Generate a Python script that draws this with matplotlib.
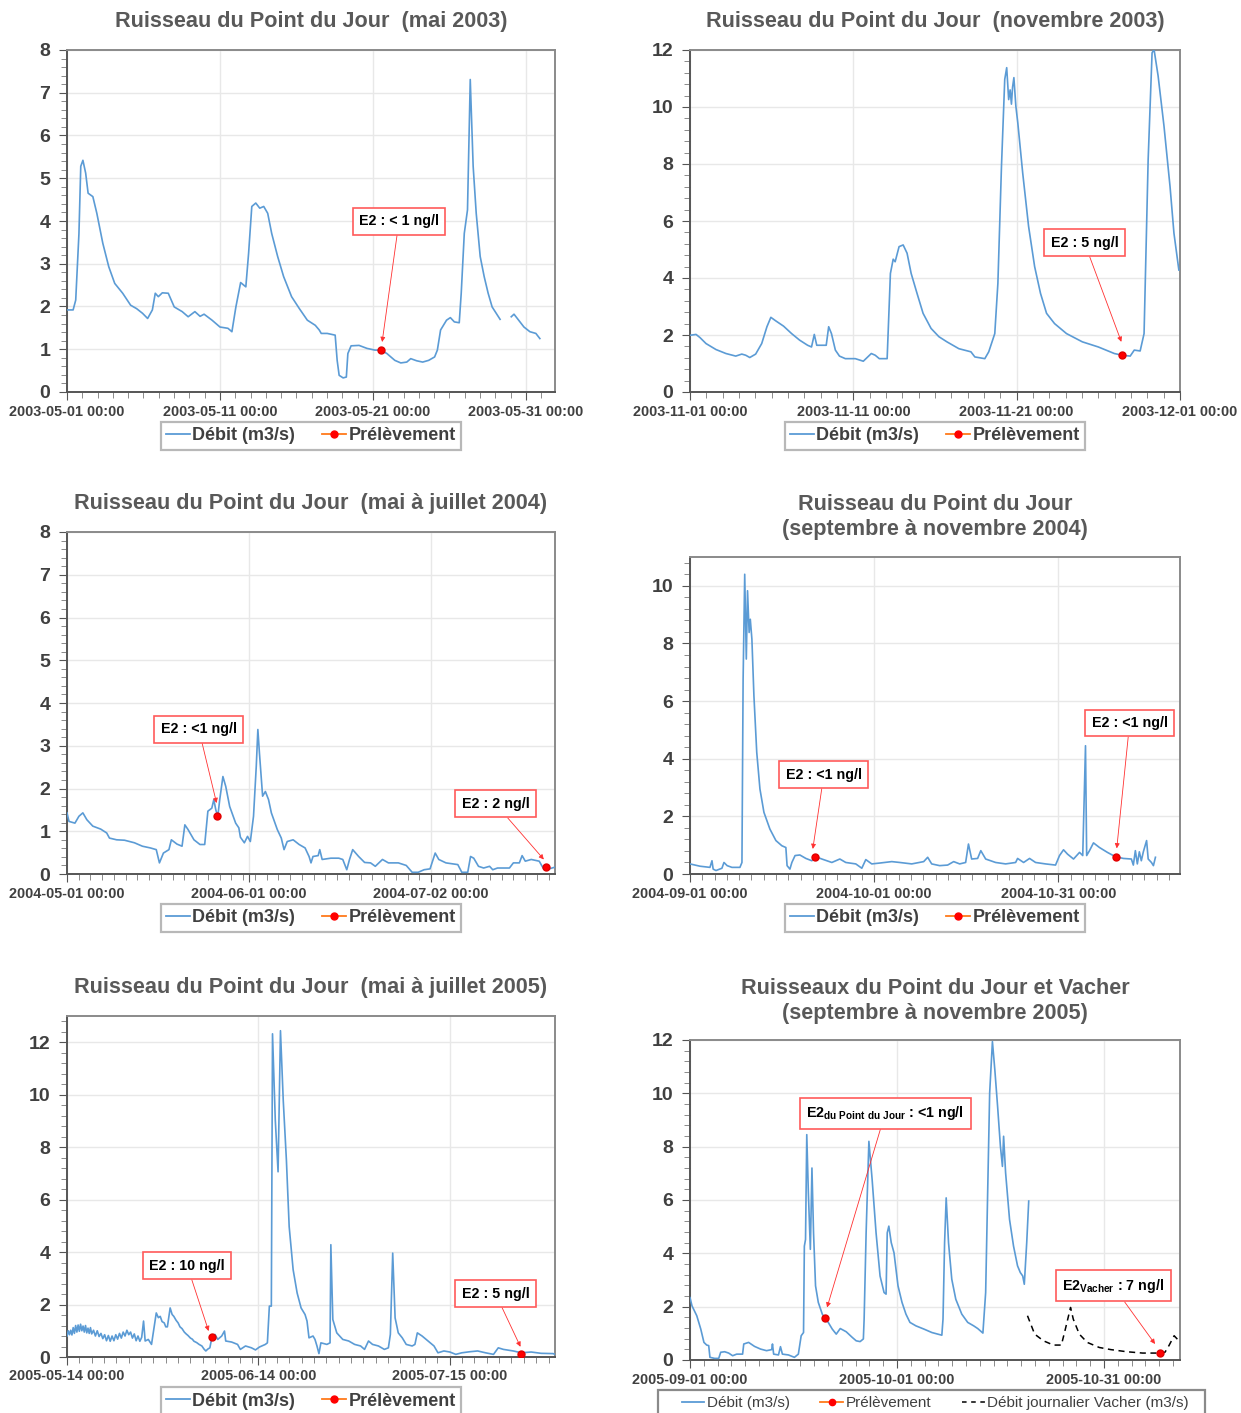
import numpy as np
import matplotlib
matplotlib.use("Agg")
import matplotlib.pyplot as plt
import matplotlib.dates as mdates
from matplotlib.lines import Line2D
from matplotlib.patches import Rectangle
from matplotlib.ticker import MultipleLocator, FixedLocator, AutoMinorLocator

plt.rcParams['font.family'] = ['Liberation Sans', 'DejaVu Sans']
plt.rcParams['mathtext.fontset'] = 'custom'
plt.rcParams['mathtext.rm'] = 'Liberation Sans'
plt.rcParams['mathtext.bf'] = 'Liberation Sans:bold'

# ---------------- data (days since start date, flow m3/s) ----------------
p1_start = '2003-05-01'
p1_days = [0, 0.4, 0.57, 0.78, 0.9, 1.04, 1.22, 1.38, 1.69, 1.95, 2.34, 2.73, 3.12, 3.64, 4.16,
           4.55, 4.94, 5.27, 5.58, 5.77, 5.97, 6.23, 6.62, 7.01, 7.53, 7.92, 8.36, 8.7, 8.96,
           9.48, 10.0, 10.52, 10.78, 11.04, 11.35, 11.69, 11.87, 12.08, 12.34, 12.6, 12.86,
           13.12, 13.38, 13.77, 14.16, 14.68, 15.19, 15.71, 16.23, 16.49, 16.62, 17.01, 17.53,
           17.66, 17.79, 18.05, 18.26, 18.36, 18.57, 19.09, 19.61, 20.13, 20.52, 20.91, 21.43,
           21.82, 22.21, 22.47, 22.86, 23.25, 23.64, 24.03, 24.21, 24.42, 24.81, 25.06, 25.32,
           25.64, 25.77, 25.97, 26.18, 26.36, 26.55, 26.75, 27.01, 27.27, 27.53, 27.79, 28.31,
           28.6, 29.04, 29.22, 29.48, 29.87, 30.26, 30.65, 30.91]
p1_flow = [1.92, 1.92, 2.15, 3.7, 5.28, 5.42, 5.12, 4.65, 4.57, 4.18, 3.48, 2.93, 2.54, 2.31, 2.03,
           1.95, 1.84, 1.72, 1.92, 2.31, 2.23, 2.32, 2.31, 1.99, 1.88, 1.76, 1.88, 1.77, 1.82,
           1.68, 1.52, 1.49, 1.41, 1.99, 2.56, 2.46, 3.24, 4.34, 4.42, 4.3, 4.34,
           4.18, 3.71, 3.17, 2.7, 2.23, 1.95, 1.68, 1.56, 1.45, 1.37, 1.37, 1.33,
           0.74, 0.39, 0.33, 0.35, 0.9, 1.08, 1.09, 1.02, 0.98, 0.98, 0.9, 0.74,
           0.68, 0.7, 0.78, 0.73, 0.7, 0.74, 0.82, 0.98, 1.45, 1.68, 1.74, 1.64,
           1.62, 2.31, 3.71, 4.26, 7.31, 5.28, 4.18, 3.17, 2.7, 2.31, 1.99, 1.7,
           np.nan, 1.76, 1.82, 1.7, 1.52, 1.41, 1.37, 1.25]
p1_sample_days = [20.55]
p1_sample_flow = [0.98]

p2_start = '2003-11-01'
p2_days = [0, 0.37, 0.61, 0.98, 1.59, 2.2, 2.8, 3.17, 3.41, 3.66, 4.02, 4.39, 4.71, 4.95, 5.24,
           5.73, 6.22, 6.71, 7.2, 7.44, 7.61, 7.76, 7.93, 8.34, 8.49, 8.66, 8.9, 9.15, 9.51,
           10.12, 10.61, 11.1, 11.34, 11.59, 12.07, 12.27, 12.44, 12.56, 12.8, 13.05, 13.29,
           13.54, 13.9, 14.27, 14.76, 15.24, 15.73, 16.46, 17.2, 17.44, 18.05, 18.29, 18.66,
           18.85, 19.07, 19.27, 19.39, 19.51, 19.6, 19.68, 19.75, 19.83, 19.95, 20.07, 20.37,
           20.73, 21.1, 21.46, 21.83, 22.32, 23.05, 24.02, 25.0, 25.98, 26.46, 26.95, 27.2,
           27.56, 27.8, 28.05, 28.29, 28.41, 28.66, 29.02, 29.39, 29.63, 29.93]
p2_flow = [1.99, 2.02, 1.91, 1.7, 1.49, 1.35, 1.26, 1.33, 1.29, 1.21, 1.33, 1.7, 2.29, 2.62, 2.5,
           2.31, 2.05, 1.82, 1.64, 1.58, 2.02, 1.64, 1.64, 1.64, 2.29, 2.05, 1.47, 1.26, 1.17,
           1.17, 1.08, 1.35, 1.29, 1.17, 1.17, 4.16, 4.66, 4.57, 5.1, 5.16, 4.87,
           4.16, 3.46, 2.76, 2.23, 1.94, 1.76, 1.52, 1.41, 1.23, 1.17, 1.41, 2.05,
           3.81, 7.92, 10.97, 11.38, 10.26, 10.6, 10.1, 10.7, 11.03, 10.03, 9.44, 7.68,
           5.81, 4.4, 3.46, 2.76, 2.4, 2.05, 1.76, 1.58, 1.35, 1.29, 1.26, 1.47,
           1.44, 2.05, 8.15, 11.9, 12.02, 11.09, 9.33, 7.21, 5.57, 4.28]
p2_sample_days = [26.46]
p2_sample_flow = [1.29]

p3_start = '2004-05-01'
p3_days = [0, 0.34, 1.35, 2.03, 2.7, 3.38, 4.39, 5.74, 6.76, 7.23, 8.45, 9.8, 11.49, 12.84, 14.19,
           15.2, 15.74, 16.42, 17.36, 17.77, 18.72, 19.59, 20.07, 20.61, 21.62, 22.64, 23.45,
           23.99, 24.66, 25.0, 25.34, 25.68, 26.01, 26.55, 27.03, 27.7, 28.72, 29.26, 29.53,
           30.2, 30.74, 31.22, 31.76, 32.23, 32.5, 32.77, 33.31, 33.78, 34.32, 34.8, 35.81,
           36.49, 36.96, 37.5, 38.51, 39.53, 40.54, 41.22, 41.55, 41.89, 42.77, 43.04, 43.45,
           44.93, 46.28, 46.96, 47.64, 48.11, 48.65, 49.66, 50.68, 51.69, 52.5, 53.72, 54.73,
           56.42, 57.77, 58.78, 59.8, 60.81, 61.82, 62.7, 63.31, 64.53, 66.55, 67.23, 68.24,
           68.72, 69.26, 70.07, 70.95, 71.96, 72.5, 73.31, 75.34, 76.01, 77.03, 77.5, 78.04,
           79.05, 80.41, 81.08, 82.09, 83.11]
p3_flow = [1.43, 1.23, 1.19, 1.35, 1.43, 1.27, 1.12, 1.05, 0.96, 0.84, 0.8, 0.79, 0.73, 0.65, 0.61,
           0.57, 0.26, 0.49, 0.57, 0.8, 0.7, 0.65, 1.15, 1.04, 0.8, 0.69, 0.69,
           1.47, 1.54, 1.74, 1.5, 1.35, 1.74, 2.28, 2.05, 1.58, 1.19, 1.08, 0.86,
           0.73, 0.88, 0.76, 1.35, 2.52, 3.38, 2.83, 1.82, 1.93, 1.74, 1.43, 1.04,
           0.84, 0.57, 0.76, 0.8, 0.69, 0.61, 0.41, 0.26, 0.41, 0.43, 0.57, 0.34,
           0.37, 0.37, 0.34, 0.1, 0.34, 0.57, 0.41, 0.27, 0.26, 0.18, 0.34, 0.26,
           0.26, 0.2, 0.04, 0.04, 0.1, 0.12, 0.49, 0.34, 0.26, 0.22, 0.04, 0.04,
           0.41, 0.37, 0.18, 0.14, 0.18, 0.1, 0.14, 0.14, 0.26, 0.26, 0.43, 0.3,
           0.34, 0.3, 0.14, 0.12, 0.16]
p3_sample_days = [25.47, 81.62]
p3_sample_flow = [1.35, 0.16]

p4_start = '2004-09-01'
p4_days = [0, 1.63, 3.25, 3.58, 3.77, 4.23, 5.2, 5.53, 6.05, 6.83, 8.13, 8.46, 8.65, 8.91, 9.17,
           9.37, 9.63, 9.82, 10.08, 10.41, 10.87, 11.39, 12.04, 13.01, 13.99, 14.96, 15.61,
           15.81, 16.27, 16.59, 17.11, 17.89, 18.87, 19.84, 20.49, 21.47, 23.1, 24.4, 25.37,
           27.0, 27.98, 28.63, 29.6, 30.9, 32.86, 34.16, 36.11, 38.06, 38.71, 39.36, 40.66,
           41.96, 42.94, 43.92, 44.89, 45.35, 45.87, 46.84, 47.36, 48.15, 49.77, 51.4, 53.03,
           53.35, 54.33, 55.3, 56.28, 57.9, 59.53, 60.18, 60.83, 61.48, 62.46, 63.44, 63.96,
           64.41, 64.6, 65.06, 65.71, 66.68, 67.98, 69.28, 70.58, 71.88, 72.2, 72.53, 72.85,
           73.18, 73.5, 73.83, 74.36, 74.62, 75.15, 75.47, 75.8]
p4_flow = [0.35, 0.27, 0.23, 0.46, 0.17, 0.12, 0.2, 0.4, 0.29, 0.23, 0.23, 0.4, 6.76, 10.4, 7.46,
           9.83, 8.38, 8.84, 8.15, 6.18, 4.22, 2.95, 2.14, 1.56, 1.16, 0.98, 0.92,
           0.29, 0.17, 0.4, 0.64, 0.66, 0.54, 0.46, 0.6, 0.52, 0.4, 0.52, 0.4,
           0.35, 0.2, 0.5, 0.35, 0.38, 0.43, 0.4, 0.35, 0.43, 0.58, 0.35, 0.29,
           0.31, 0.43, 0.35, 0.4, 1.04, 0.52, 0.54, 0.81, 0.52, 0.4, 0.35, 0.4,
           0.54, 0.4, 0.54, 0.4, 0.35, 0.31, 0.64, 0.84, 0.69, 0.52, 0.75, 0.64,
           4.45, 0.64, 0.81, 1.08, 0.92, 0.75, 0.6, 0.54, 0.52, 0.31, 0.81, 0.35,
           0.77, 0.46, 0.77, 1.16, 0.52, 0.4, 0.29, 0.58]
p4_sample_days = [20.43, 69.41]
p4_sample_flow = [0.6, 0.6]

p5_start = '2005-05-14'
p5_days = [0, 0.2, 0.4, 0.6, 0.8, 1.0, 1.2, 1.4, 1.6, 1.8, 2.0, 2.2, 2.4, 2.6, 2.8, 3.0, 3.2,
           3.4, 3.6, 3.8, 4.0, 4.3, 4.6, 4.9, 5.2, 5.5, 5.8, 6.1, 6.4, 6.7, 7.0, 7.3, 7.6,
           7.9, 8.2, 8.5, 8.8, 9.1, 9.4, 9.7, 10.0, 10.3, 10.6, 10.9, 11.2, 11.5, 11.8, 12.1,
           12.4, 12.66, 13.17, 13.69, 14.14, 14.46, 14.8, 15.1, 15.4, 15.75, 16.0, 16.26,
           16.71, 17.03, 17.3, 17.67, 18.0, 18.3, 18.64, 19.0, 19.3, 19.6, 20.0, 20.3, 20.57,
           21.0, 21.4, 21.85, 22.2, 22.49, 22.8, 23.14, 23.46, 23.97, 24.42, 25.06, 25.51, 25.71,
           26.67, 27.63, 28.08, 28.92, 29.88, 30.53, 31.17, 32.13, 32.46, 32.78, 33.1, 33.29,
           33.74, 34.19, 34.58, 35.03, 35.54, 35.99, 36.63, 37.28, 37.92, 38.56, 38.88, 39.2,
           39.85, 40.17, 40.49, 40.81, 41.13, 42.1, 42.61, 42.74, 43.06, 43.7, 44.67, 45.63,
           46.59, 47.56, 48.2, 48.84, 49.49, 50.45, 51.41, 52.06, 52.38, 52.76, 53.15, 53.66,
           54.31, 54.95, 55.91, 56.36, 56.75, 57.52, 58.48, 59.45, 60.09, 61.05, 62.02, 62.98,
           63.95, 65.23, 66.52, 67.8, 69.09, 69.86, 70.69, 72.3, 73.59, 75.19, 76.8, 78.73, 79.05]
p5_flow = [0.8, 1.0, 0.85, 1.02, 0.84, 1.12, 0.9, 1.2, 0.95, 1.22, 0.98, 1.25, 1.0, 1.18, 0.95,
           1.2, 0.92, 1.1, 0.9, 1.12, 0.88, 1.02, 0.8, 1.0, 0.78, 0.9, 0.7, 0.85, 0.62, 0.82,
           0.6, 0.8, 0.62, 0.85, 0.68, 0.9, 0.72, 0.95, 0.8, 1.02, 0.85, 0.95, 0.72, 0.88,
           0.62, 0.8, 0.6, 0.75, 1.37, 0.61, 0.67, 0.48, 1.18, 1.68, 1.5, 1.55, 1.35, 1.3,
           1.15, 1.15, 1.87, 1.62, 1.55, 1.4, 1.3, 1.15, 1.08, 0.95, 0.88, 0.82, 0.72, 0.68,
           0.6, 0.55, 0.48, 0.42, 0.3, 0.23, 0.3, 0.35, 0.73, 0.86, 0.67, 0.8, 0.99, 0.61,
           0.57, 0.48, 0.29, 0.42, 0.35, 0.27, 0.38, 0.48, 0.54, 1.94, 1.94, 12.32,
           9.03, 7.06, 12.44, 9.78, 7.51, 4.97, 3.33, 2.44, 1.87, 1.62, 1.37, 0.73,
           0.8, 0.67, 0.42, 0.13, 0.54, 0.48, 0.54, 4.28, 1.43, 0.92, 0.67, 0.61,
           0.48, 0.42, 0.29, 0.61, 0.48, 0.42, 0.29, 0.35, 0.86, 3.96, 1.49, 0.92,
           0.73, 0.48, 0.42, 0.48, 0.92, 0.8, 0.61, 0.42, 0.16, 0.23, 0.19, 0.1,
           0.16, 0.2, 0.23, 0.16, 0.1, 0.35, 0.29, 0.23, 0.16, 0.19, 0.14, 0.13, 0.1]
p5_sample_days = [23.52, 73.59]
p5_sample_flow = [0.76, 0.13]

p6_start = '2005-09-01'
p6_days = [0, 0.29, 0.98, 1.56, 2.02, 2.42, 2.71, 2.89, 3.58, 4.16, 4.45, 5.02, 5.6, 6.18, 6.76,
           7.62, 7.79, 8.49, 9.35, 10.22, 11.09, 11.84, 11.95, 12.12, 12.82, 13.11, 13.39,
           14.26, 15.13, 15.7, 16.11, 16.45, 16.57, 16.74, 16.92, 17.15, 17.44, 17.67, 17.9,
           18.19, 18.59, 19.17, 19.57, 20.03, 20.61, 21.19, 21.77, 22.63, 23.5, 24.08, 24.65,
           25.12, 25.23, 25.52, 25.92, 26.39, 26.96, 27.54, 28.12, 28.41, 28.58, 28.81, 29.16,
           29.56, 30.14, 30.72, 31.29, 31.87, 32.74, 33.89, 35.05, 35.91, 36.49, 36.66, 36.89,
           37.12, 37.46, 37.93, 38.51, 39.38, 40.24, 41.11, 41.69, 42.44, 42.84, 43.13, 43.42,
           43.82, 44.17, 44.57, 44.98, 45.27, 45.44, 45.73, 46.3, 46.88, 47.46, 47.86, 48.21,
           48.44, 48.79, 49.08]
p6_flow = [2.34, 2.03, 1.66, 1.16, 0.66, 0.56, 0.54, 0.1, 0.06, 0.06, 0.29, 0.31, 0.26, 0.16, 0.22,
           0.22, 0.6, 0.66, 0.51, 0.41, 0.35, 0.39, 0.6, 0.22, 0.19, 0.5, 0.22,
           0.19, 0.1, 0.22, 0.91, 1.03, 4.27, 4.52, 8.45, 6.27, 4.15, 7.2, 4.77,
           2.78, 2.16, 1.72, 1.56, 1.41, 1.16, 0.97, 1.18, 1.06, 0.85, 0.72, 0.69,
           0.79, 1.53, 4.77, 8.2, 6.77, 4.77, 3.15, 2.53, 2.47, 4.77, 5.02, 4.4,
           4.02, 2.78, 2.16, 1.72, 1.41, 1.28, 1.16, 1.03, 0.97, 0.93, 1.53, 4.4,
           6.08, 4.4, 3.03, 2.28, 1.72, 1.41, 1.28, 1.18, 1.01, 2.53, 6.27, 10.01,
           11.94, 10.88, 9.51, 8.01, 7.26, 8.39, 7.02, 5.27, 4.27, 3.53, 3.28, 3.15,
           2.84, 4.4, 5.96]
p6_vacher_days = [48.9, 49.94, 51.21, 52.65, 53.81, 54.39, 55.14, 55.54, 56.41, 57.56, 59.3,
                  60.97, 63.28, 65.59, 67.9, 68.82, 69.4, 70.15, 70.84]
p6_vacher_flow = [1.66, 0.97, 0.72, 0.56, 0.56, 1.16, 1.97, 1.53, 0.97, 0.66, 0.47,
                  0.39, 0.31, 0.26, 0.26, 0.29, 0.54, 0.91, 0.72]
p6_sample_days = [19.57, 68.07]
p6_sample_flow = [1.57, 0.26]

titles = ['Ruisseau du Point du Jour  (mai 2003)',
          'Ruisseau du Point du Jour  (novembre 2003)',
          'Ruisseau du Point du Jour  (mai à juillet 2004)',
          'Ruisseau du Point du Jour\n(septembre à novembre 2004)',
          'Ruisseau du Point du Jour  (mai à juillet 2005)',
          'Ruisseaux du Point du Jour et Vacher\n(septembre à novembre 2005)']

p1_xticks = ['2003-05-01', '2003-05-11', '2003-05-21', '2003-05-31']
p2_xticks = ['2003-11-01', '2003-11-11', '2003-11-21', '2003-12-01']
p3_xticks = ['2004-05-01', '2004-06-01', '2004-07-02']
p4_xticks = ['2004-09-01', '2004-10-01', '2004-10-31']
p5_xticks = ['2005-05-14', '2005-06-14', '2005-07-15']
p6_xticks = ['2005-09-01', '2005-10-01', '2005-10-31']

# ---------------- styling ----------------
W, H = 1241, 1413
BLUE = '#5b9bd5'
TITLE_C = '#595959'
TICK_C = '#404040'

fig = plt.figure(figsize=(W / 100, H / 100), dpi=100)


def px_axes(l, r, t, b):
    return fig.add_axes([l / W, 1 - b / H, (r - l) / W, (b - t) / H])


def draw_panel(ax, start, days, flow, s_days, s_flow, xmax, ymax, ystep, xticks, minor_step,
               title, title_y, legend_y, extra=None):
    t0 = mdates.datestr2num(start)
    ax.plot(t0 + np.array(days), flow, color=BLUE, lw=1.2, zorder=3)
    if extra is not None:
        ax.plot(t0 + np.array(extra[0]), extra[1], color='black', lw=1.1, ls=(0, (4, 3)), zorder=3)
    ax.plot(t0 + np.array(s_days), s_flow, 'o', color='#ff0000', mec='#e00000', ms=5, zorder=5)

    ax.set_xlim(t0, t0 + xmax)
    ax.set_ylim(0, ymax)
    ax.xaxis.set_major_locator(FixedLocator(mdates.datestr2num(xticks)))
    ax.xaxis.set_major_formatter(mdates.DateFormatter('%Y-%m-%d %H:%M'))
    ax.xaxis.set_minor_locator(FixedLocator(t0 + np.arange(0, xmax, minor_step)))
    ax.yaxis.set_major_locator(MultipleLocator(ystep))
    ax.yaxis.set_minor_locator(AutoMinorLocator(5))
    ax.grid(True, which='major', color='#e8e8e8', lw=1.0, zorder=0)
    ax.set_axisbelow(True)
    ax.tick_params(axis='x', which='major', labelsize=10.4, labelcolor=TICK_C, length=6,
                   color='#555555', pad=3)
    ax.tick_params(axis='x', which='minor', length=4, color='#777777')
    ax.tick_params(axis='y', which='major', labelsize=14, labelcolor=TICK_C, length=6,
                   color='#555555', pad=6)
    ax.tick_params(axis='y', which='minor', length=4, color='#777777')
    for lab in ax.get_xticklabels() + ax.get_yticklabels():
        lab.set_fontweight('bold')
    for s in ['left', 'bottom']:
        ax.spines[s].set_color('#555555')
        ax.spines[s].set_linewidth(1.4)
    for s in ['top', 'right']:
        ax.spines[s].set_color('#8a8a8a')
        ax.spines[s].set_linewidth(1.4)

    bb = ax.get_position()
    cx = (bb.x0 + bb.x1) / 2
    fig.text(cx, 1 - title_y / H, title, ha='center', va='center', fontsize=15.6,
             fontweight='bold', color=TITLE_C, linespacing=1.2)

    handles = [Line2D([], [], color=BLUE, lw=1.3, label='Débit (m3/s)'),
               Line2D([], [], color='#ff7a1a', lw=1.3, marker='o', mfc='#ff0000', mec='#ff0000',
                      ms=5, label='Prélèvement')]
    if extra is None:
        leg = fig.legend(handles=handles, loc='center', bbox_to_anchor=(cx, 1 - legend_y / H),
                         ncol=2, fontsize=13, frameon=True, fancybox=False,
                         handlelength=1.3, handletextpad=0.15, columnspacing=1.5, borderpad=0.3,
                         edgecolor='#a6a6a6')
        leg.get_frame().set_linewidth(1.6)
        weight = 'bold'
    else:
        handles[1].set_markersize(4.5)
        handles.append(Line2D([], [], color='black', lw=1.1, ls=(0, (3, 3)),
                              label='Débit journalier Vacher (m3/s)'))
        leg = fig.legend(handles=handles, loc='center', bbox_to_anchor=(cx, 1 - legend_y / H),
                         ncol=3, fontsize=11, frameon=False,
                         handlelength=1.5, handletextpad=0.15, columnspacing=2.0)
        # wide box whose lower edge runs past the figure bottom, like in the source
        fig.patches.append(Rectangle((658 / W, -0.02), (1205 - 658) / W, (H - 1390) / H + 0.02,
                                     transform=fig.transFigure, fill=False, ec='#8a8a8a',
                                     lw=1.6, zorder=1))
        weight = 'normal'
    for t in leg.get_texts():
        t.set_color(TICK_C)
        t.set_fontweight(weight)
    return t0


def note(ax, t0, text, tip, box):
    ax.annotate(text, xy=(t0 + tip[0], tip[1]), xytext=(t0 + box[0], box[1]),
                ha='center', va='center', fontsize=10.3, fontweight='bold', color='black',
                bbox=dict(boxstyle='square,pad=0.45', fc='white', ec='#ff5a5a', lw=1.2),
                arrowprops=dict(arrowstyle='-|>', color='#ff3030', lw=0.6, mutation_scale=7,
                                shrinkA=0, shrinkB=0),
                zorder=6)


ax1 = px_axes(67, 555, 50, 392)
t = draw_panel(ax1, p1_start, p1_days, p1_flow, p1_sample_days, p1_sample_flow, 31.9, 8, 1,
               p1_xticks, 1, titles[0], 22, 436)
note(ax1, t, 'E2 : < 1 ng/l', (20.6, 1.17), (21.7, 3.99))

ax2 = px_axes(690, 1180, 50, 392)
t = draw_panel(ax2, p2_start, p2_days, p2_flow, p2_sample_days, p2_sample_flow, 30, 12, 2,
               p2_xticks, 1, titles[1], 22, 436)
note(ax2, t, 'E2 : 5 ng/l', (26.41, 1.76), (24.15, 5.24))

ax3 = px_axes(67, 555, 532, 874)
t = draw_panel(ax3, p3_start, p3_days, p3_flow, p3_sample_days, p3_sample_flow, 83.1, 8, 1,
               p3_xticks, 2, titles[2], 504, 918)
note(ax3, t, 'E2 : <1 ng/l', (25.47, 1.66), (22.43, 3.39))
note(ax3, t, 'E2 : 2 ng/l', (81.2, 0.34), (72.97, 1.64))

ax4 = px_axes(690, 1180, 557, 874)
t = draw_panel(ax4, p4_start, p4_days, p4_flow, p4_sample_days, p4_sample_flow, 79.8, 11, 2,
               p4_xticks, 2, titles[3], 517, 918)
note(ax4, t, 'E2 : <1 ng/l', (20.0, 0.87), (21.8, 3.45))
note(ax4, t, 'E2 : <1 ng/l', (69.5, 0.89), (71.6, 5.24))

ax5 = px_axes(67, 555, 1016, 1357)
t = draw_panel(ax5, p5_start, p5_days, p5_flow, p5_sample_days, p5_sample_flow, 79.05, 13, 2,
               p5_xticks, 2, titles[4], 988, 1401)
note(ax5, t, 'E2 : 10 ng/l', (22.94, 0.99), (19.47, 3.48))
note(ax5, t, 'E2 : 5 ng/l', (73.46, 0.39), (69.4, 2.42))

ax6 = px_axes(690, 1180, 1040, 1360)
t = draw_panel(ax6, p6_start, p6_days, p6_flow, p6_sample_days, p6_sample_flow, 71, 12, 2,
               p6_xticks, 2, titles[5], 1001, 1403, extra=(p6_vacher_days, p6_vacher_flow))
note(ax6, t, r'E2$_{\mathbf{du\ Point\ du\ Jour}}$ : <1 ng/l', (19.86, 1.97), (28.29, 9.26))
note(ax6, t, r'E2$_{\mathbf{Vacher}}$ : 7 ng/l', (67.38, 0.6), (61.3, 2.78))

fig.savefig('out.png', dpi=100)
